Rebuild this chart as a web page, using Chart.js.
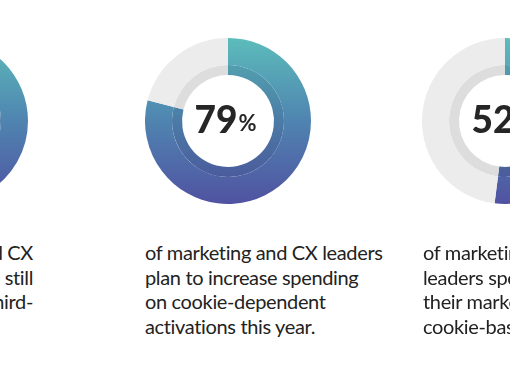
<!DOCTYPE html>
<html lang="en">
<head>
  <meta charset="UTF-8">
  <title>Cookie spending donuts</title>
  <script src="https://cdn.jsdelivr.net/npm/chart.js"></script>
  <style>
    body {
      margin: 0;
      width: 510px;
      height: 382px;
      overflow: hidden;
      background: #fff;
      position: relative;
      font-family: Lato, sans-serif;
      color: #222;
    }
    .donut {
      position: absolute;
      top: 38px;
      width: 166px;
      height: 166px;
    }
    .big {
      position: absolute;
      top: 0; left: 0; right: 0; bottom: 0;
      display: flex;
      align-items: center;
      justify-content: center;
      font-weight: 900;
      font-size: 37px;
      color: #262626;
      padding-right: 5px;
      padding-bottom: 6px;
    }
    .big small {
      font-size: 22px;
      font-weight: 700;
      margin-left: 1px;
      margin-top: 8px;
    }
    .caption {
      position: absolute;
      top: 240px;
      font-size: 20px;
      letter-spacing: -0.35px;
      line-height: 24.7px;
      white-space: nowrap;
    }
  </style>
</head>
<body>
  <div class="donut" style="left:-138px"><canvas id="d0"></canvas></div>
  <div class="donut" style="left:145px"><canvas id="d1"></canvas><div class="big" id="n1"></div></div>
  <div class="donut" style="left:422px"><canvas id="d2"></canvas><div class="big" id="n2"></div></div>

  <div class="caption" id="c0" style="right:477px;text-align:right"></div>
  <div class="caption" id="c1" style="left:145px"></div>
  <div class="caption" id="c2" style="left:423px"></div>

  <script>
    // shares of marketing / CX leaders (%), left one is cut off in the picture
    const shares = [83, 79, 52];
    const captions = [
      ['of marketing and CX', 'leaders are still', 'relying on third-'],
      ['of marketing and CX leaders', 'plan to increase spending', 'on cookie-dependent', 'activations this year.'],
      ['of marketing and CX', 'leaders spend most of', 'their marketing on', 'cookie-based media.']
    ];

    function ringGradient(ctx, stops) {
      const area = ctx.chart.chartArea;
      if (!area) return stops[0];
      const g = ctx.chart.ctx.createLinearGradient(0, area.top, 0, area.bottom);
      g.addColorStop(0, stops[0]);
      g.addColorStop(0.5, stops[1]);
      g.addColorStop(1, stops[2]);
      return g;
    }

    const outerStops = ['#5cbcbb', '#4f84b0', '#5052a1'];
    const innerStops = ['#56b0b2', '#4b7ba6', '#4b4c97'];

    shares.forEach(function(v, i) {
      const rest = 100 - v;
      new Chart(document.getElementById('d' + i), {
        type: 'doughnut',
        data: {
          labels: ['yes', 'other'],
          datasets: [
            {
              data: [v, rest],
              weight: 27,
              borderWidth: 0,
              backgroundColor: function(ctx) {
                return ctx.dataIndex === 0 ? ringGradient(ctx, outerStops) : '#ececec';
              }
            },
            {
              data: [v, rest],
              weight: 10,
              borderWidth: 0,
              backgroundColor: function(ctx) {
                return ctx.dataIndex === 0 ? ringGradient(ctx, innerStops) : '#dddddd';
              }
            }
          ]
        },
        options: {
          responsive: true,
          maintainAspectRatio: false,
          animation: false,
          events: [],
          cutout: '55.4%',
          layout: { padding: 0 },
          plugins: {
            legend: { display: false },
            tooltip: { enabled: false }
          }
        }
      });

      const n = document.getElementById('n' + i);
      if (n) n.innerHTML = v + '<small>%</small>';
      document.getElementById('c' + i).innerHTML = captions[i].join('<br>');
    });
  </script>
</body>
</html>
